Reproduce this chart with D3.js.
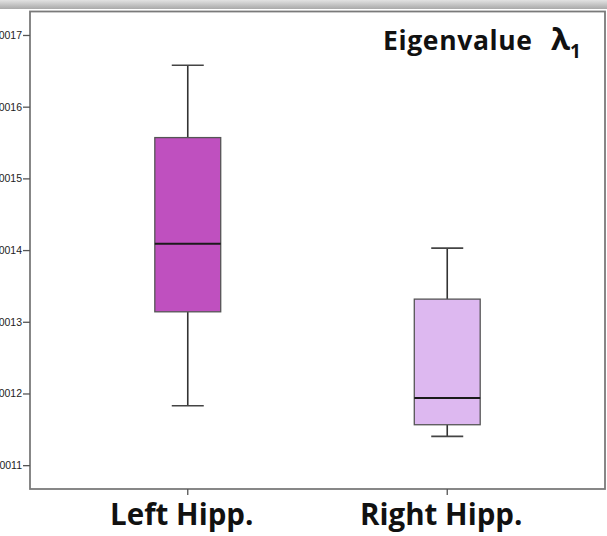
<!DOCTYPE html>
<html>
<head>
<meta charset="utf-8">
<script src="https://cdn.jsdelivr.net/npm/d3@7/dist/d3.min.js"></script>
<style>
  html, body { margin: 0; padding: 0; background: #fff; }
  svg { display: block; }
</style>
</head>
<body>
<svg id="chart" width="607" height="536"></svg>
<script>
// Box-plot summaries of the first eigenvalue (λ1) per hippocampus
const categories = ["Left Hipp.", "Right Hipp."];
const whiskerLow  = [0.0011829, 0.0011401];
const quartile1   = [0.0013139, 0.0011564];
const medians     = [0.0014087, 0.0011937];
const quartile3   = [0.0015569, 0.0013316];
const whiskerHigh = [0.0016578, 0.0014027];
const boxColors   = ["#bf50bf", "#ddb8f0"];
const tickValues  = [0.0011, 0.0012, 0.0013, 0.0014, 0.0015, 0.0016, 0.0017];
const titleText   = "Eigenvalue";

const svg = d3.select("#chart");
const W = 607, H = 536;
const plot = { left: 30, right: 605, top: 11.5, bottom: 489 };

// Gradient band across the top of the frame
const defs = svg.append("defs");
const grad = defs.append("linearGradient").attr("id", "topband")
  .attr("x1", 0).attr("y1", 0).attr("x2", 0).attr("y2", 1);
grad.append("stop").attr("offset", "0%").attr("stop-color", "#e2e2e2");
grad.append("stop").attr("offset", "100%").attr("stop-color", "#a9a9a9");
svg.append("rect").attr("x", 0).attr("y", 0).attr("width", W).attr("height", 9)
  .attr("fill", "url(#topband)");

const y = d3.scaleLinear()
  .domain([0.00106677, 0.00173275])
  .range([plot.bottom, plot.top]);

const x = d3.scaleBand()
  .domain(categories)
  .range([plot.left, plot.right])
  .paddingInner(0.746)
  .paddingOuter(0.481);

// Frame
svg.append("rect")
  .attr("x", plot.left).attr("y", plot.top)
  .attr("width", plot.right - plot.left).attr("height", plot.bottom - plot.top)
  .attr("fill", "#fff").attr("stroke", "#7a7a7a").attr("stroke-width", 1.8);

// Y axis
const yAxis = d3.axisLeft(y).tickValues(tickValues)
  .tickSize(7).tickPadding(1)
  .tickFormat(d3.format(".4f"));
const gy = svg.append("g").attr("transform", `translate(${plot.left},0)`).call(yAxis);
gy.select(".domain").remove();
gy.selectAll(".tick line").attr("stroke", "#555").attr("stroke-width", 1.3);
gy.selectAll(".tick text")
  .attr("font-family", "Arial, 'Liberation Sans', sans-serif")
  .attr("font-size", 10.5).attr("fill", "#222");

// X axis ticks
const xAxis = d3.axisBottom(x).tickSize(6).tickFormat("");
const gx = svg.append("g").attr("transform", `translate(0,${plot.bottom})`).call(xAxis);
gx.select(".domain").remove();
gx.selectAll(".tick line").attr("stroke", "#555").attr("stroke-width", 1.3);

const cx = d => x(d) + x.bandwidth() / 2;

// Category labels
svg.append("g").selectAll("text").data(categories).join("text")
  .attr("x", d => cx(d) - 6)
  .attr("y", 524.5)
  .attr("text-anchor", "middle")
  .attr("font-family", "'Open Sans', sans-serif")
  .attr("font-weight", 700)
  .attr("font-size", 29.5)
  .attr("fill", "#111")
  .text(d => d);

// Boxes
const boxes = svg.append("g").selectAll("g").data(categories).join("g");
const capHalf = 16;

boxes.append("line")
  .attr("x1", cx).attr("x2", cx)
  .attr("y1", (d, i) => y(whiskerHigh[i])).attr("y2", (d, i) => y(quartile3[i]))
  .attr("stroke", "#333").attr("stroke-width", 1.6);
boxes.append("line")
  .attr("x1", cx).attr("x2", cx)
  .attr("y1", (d, i) => y(quartile1[i])).attr("y2", (d, i) => y(whiskerLow[i]))
  .attr("stroke", "#333").attr("stroke-width", 1.6);
boxes.append("line")
  .attr("x1", d => cx(d) - capHalf).attr("x2", d => cx(d) + capHalf)
  .attr("y1", (d, i) => y(whiskerHigh[i])).attr("y2", (d, i) => y(whiskerHigh[i]))
  .attr("stroke", "#444").attr("stroke-width", 1.6);
boxes.append("line")
  .attr("x1", d => cx(d) - capHalf).attr("x2", d => cx(d) + capHalf)
  .attr("y1", (d, i) => y(whiskerLow[i])).attr("y2", (d, i) => y(whiskerLow[i]))
  .attr("stroke", "#444").attr("stroke-width", 1.6);
boxes.append("rect")
  .attr("x", d => x(d)).attr("width", x.bandwidth())
  .attr("y", (d, i) => y(quartile3[i]))
  .attr("height", (d, i) => y(quartile1[i]) - y(quartile3[i]))
  .attr("fill", (d, i) => boxColors[i])
  .attr("stroke", "#555").attr("stroke-width", 1.3);
boxes.append("line")
  .attr("x1", d => x(d)).attr("x2", d => x(d) + x.bandwidth())
  .attr("y1", (d, i) => y(medians[i])).attr("y2", (d, i) => y(medians[i]))
  .attr("stroke", "#1a1a1a").attr("stroke-width", 2);

// Title: "Eigenvalue  λ1" with a subscript 1
const title = svg.append("text")
  .attr("y", 50)
  .attr("font-family", "'Open Sans', sans-serif")
  .attr("font-weight", 700)
  .attr("font-size", 26.5)
  .attr("fill", "#111");
title.append("tspan").attr("x", 383).attr("textLength", 149).text(titleText);
title.append("tspan").attr("x", 551).attr("font-size", 31).text("λ");
title.append("tspan").attr("font-size", 19).attr("dy", 8).text("1");
</script>
</body>
</html>
